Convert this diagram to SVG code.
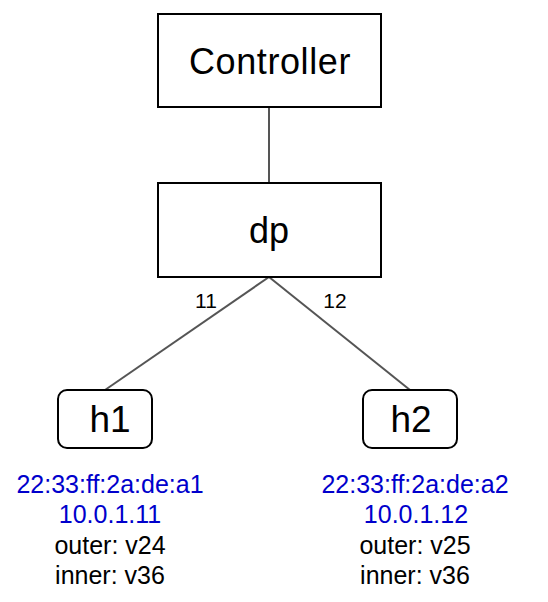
<svg xmlns="http://www.w3.org/2000/svg" width="548" height="602" viewBox="0 0 548 602">
<style>
.box{fill:#fff;stroke:#000;stroke-width:2}
.big{font-family:"Liberation Sans",Arial,sans-serif;font-size:36px;fill:#000;text-anchor:middle}
.lbl{font-family:"Liberation Sans",Arial,sans-serif;font-size:21px;fill:#000;text-anchor:middle}
.info{font-family:"Liberation Sans",Arial,sans-serif;font-size:25px;text-anchor:middle}
.blue{fill:#0000cc}
.blk{fill:#000}
.conn{stroke:#555;stroke-width:2;fill:none}
</style>
<rect width="548" height="602" fill="#fff"/>
<g id="connectors">
<line class="conn" x1="269" y1="107" x2="269" y2="183"/>
<line class="conn" x1="269" y1="277" x2="105" y2="390"/>
<line class="conn" x1="269" y1="277" x2="410" y2="390"/>
<text class="lbl" x="206" y="308">11</text>
<text class="lbl" x="335" y="308">12</text>
</g>
<g id="controller">
<rect class="box" x="158" y="14" width="223" height="93"/>
<text class="big" x="270" y="74" style="letter-spacing:0.6px">Controller</text>
</g>
<g id="dp">
<rect class="box" x="158" y="183" width="223" height="94"/>
<text class="big" x="269" y="243">dp</text>
</g>
<g id="h1">
<rect class="box" x="58" y="390" width="94" height="58" rx="9"/>
<text class="big" x="110" y="432" style="font-size:37px">h1</text>
<text class="info blue" x="110" y="493">22:33:ff:2a:de:a1</text>
<text class="info blue" x="110" y="523">10.0.1.11</text>
<text class="info blk" x="110" y="554">outer: v24</text>
<text class="info blk" x="110" y="584">inner: v36</text>
</g>
<g id="h2">
<rect class="box" x="363" y="390" width="94" height="58" rx="9"/>
<text class="big" x="411" y="432" style="font-size:37px">h2</text>
<text class="info blue" x="415" y="493">22:33:ff:2a:de:a2</text>
<text class="info blue" x="416" y="523">10.0.1.12</text>
<text class="info blk" x="415" y="554">outer: v25</text>
<text class="info blk" x="415" y="584">inner: v36</text>
</g>
</svg>
